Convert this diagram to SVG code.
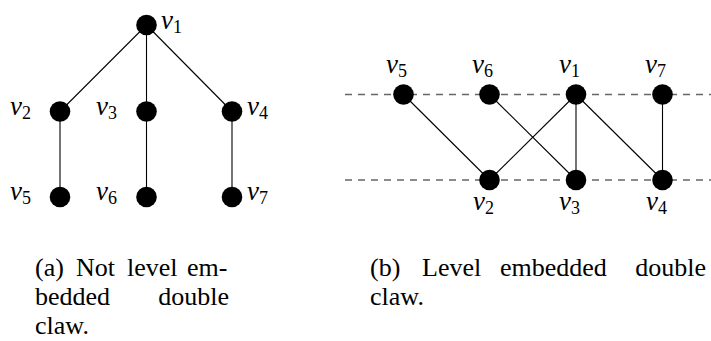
<svg xmlns="http://www.w3.org/2000/svg" width="711" height="341" viewBox="0 0 711 341">
<rect width="711" height="341" fill="#fff"/>
<g id="connectors" fill="none">
<g stroke="#000" stroke-width="1.1">
<line x1="146.5" y1="25" x2="60" y2="111.5"/>
<line x1="146.5" y1="25" x2="146.5" y2="111.5"/>
<line x1="146.5" y1="25" x2="232" y2="111.5"/>
<line x1="60" y1="111.5" x2="60" y2="197"/>
<line x1="146.5" y1="111.5" x2="146.5" y2="197"/>
<line x1="232" y1="111.5" x2="232" y2="197"/>
<line x1="403.5" y1="94.5" x2="489.5" y2="180"/>
<line x1="489.5" y1="94.5" x2="576" y2="180"/>
<line x1="576" y1="94.5" x2="489.5" y2="180"/>
<line x1="576" y1="94.5" x2="576" y2="180"/>
<line x1="576" y1="94.5" x2="662.5" y2="180"/>
<line x1="662.5" y1="94.5" x2="662.5" y2="180"/>
</g>
<g stroke="#666" stroke-width="1.3" stroke-dasharray="7 6">
<line x1="345" y1="94.5" x2="711" y2="94.5"/>
<line x1="345" y1="180" x2="711" y2="180"/>
</g>
</g>
<g fill="#000">
<g id="a-v1"><circle cx="146.5" cy="25" r="10.3"/><text x="161" y="29" font-family="Liberation Serif" font-style="italic" font-size="27">v<tspan font-family="Liberation Serif" font-style="normal" font-size="18" dy="4">1</tspan></text></g>
<g id="a-v2"><circle cx="60" cy="111.5" r="10.3"/><text x="10" y="115" font-family="Liberation Serif" font-style="italic" font-size="27">v<tspan font-family="Liberation Serif" font-style="normal" font-size="18" dy="4">2</tspan></text></g>
<g id="a-v3"><circle cx="146.5" cy="111.5" r="10.3"/><text x="96" y="115" font-family="Liberation Serif" font-style="italic" font-size="27">v<tspan font-family="Liberation Serif" font-style="normal" font-size="18" dy="4">3</tspan></text></g>
<g id="a-v4"><circle cx="232" cy="111.5" r="10.3"/><text x="247" y="115" font-family="Liberation Serif" font-style="italic" font-size="27">v<tspan font-family="Liberation Serif" font-style="normal" font-size="18" dy="4">4</tspan></text></g>
<g id="a-v5"><circle cx="60" cy="197" r="10.3"/><text x="10" y="200" font-family="Liberation Serif" font-style="italic" font-size="27">v<tspan font-family="Liberation Serif" font-style="normal" font-size="18" dy="4">5</tspan></text></g>
<g id="a-v6"><circle cx="146.5" cy="197" r="10.3"/><text x="96" y="200" font-family="Liberation Serif" font-style="italic" font-size="27">v<tspan font-family="Liberation Serif" font-style="normal" font-size="18" dy="4">6</tspan></text></g>
<g id="a-v7"><circle cx="232" cy="197" r="10.3"/><text x="247" y="200" font-family="Liberation Serif" font-style="italic" font-size="27">v<tspan font-family="Liberation Serif" font-style="normal" font-size="18" dy="4">7</tspan></text></g>
<g id="b-v5"><circle cx="403.5" cy="94.5" r="10.3"/><text x="386" y="73" font-family="Liberation Serif" font-style="italic" font-size="27">v<tspan font-family="Liberation Serif" font-style="normal" font-size="18" dy="4">5</tspan></text></g>
<g id="b-v6"><circle cx="489.5" cy="94.5" r="10.3"/><text x="472" y="73" font-family="Liberation Serif" font-style="italic" font-size="27">v<tspan font-family="Liberation Serif" font-style="normal" font-size="18" dy="4">6</tspan></text></g>
<g id="b-v1"><circle cx="576" cy="94.5" r="10.3"/><text x="559" y="73" font-family="Liberation Serif" font-style="italic" font-size="27">v<tspan font-family="Liberation Serif" font-style="normal" font-size="18" dy="4">1</tspan></text></g>
<g id="b-v7"><circle cx="662.5" cy="94.5" r="10.3"/><text x="645" y="73" font-family="Liberation Serif" font-style="italic" font-size="27">v<tspan font-family="Liberation Serif" font-style="normal" font-size="18" dy="4">7</tspan></text></g>
<g id="b-v2"><circle cx="489.5" cy="180" r="10.3"/><text x="473" y="210" font-family="Liberation Serif" font-style="italic" font-size="27">v<tspan font-family="Liberation Serif" font-style="normal" font-size="18" dy="4">2</tspan></text></g>
<g id="b-v3"><circle cx="576" cy="180" r="10.3"/><text x="559" y="210" font-family="Liberation Serif" font-style="italic" font-size="27">v<tspan font-family="Liberation Serif" font-style="normal" font-size="18" dy="4">3</tspan></text></g>
<g id="b-v4"><circle cx="662.5" cy="180" r="10.3"/><text x="646" y="210" font-family="Liberation Serif" font-style="italic" font-size="27">v<tspan font-family="Liberation Serif" font-style="normal" font-size="18" dy="4">4</tspan></text></g>
</g>
<g id="captions" fill="#000">
<text y="276" font-family="Liberation Serif" font-size="26"><tspan x="35">(a)</tspan><tspan x="76">Not</tspan><tspan x="127">level</tspan><tspan x="187">em-</tspan></text>
<text y="305" font-family="Liberation Serif" font-size="26"><tspan x="35">bedded</tspan><tspan x="229" text-anchor="end">double</tspan></text>
<text x="35" y="334" font-family="Liberation Serif" font-size="26">claw.</text>
<text y="276" font-family="Liberation Serif" font-size="26"><tspan x="370">(b)</tspan><tspan x="422">Level</tspan><tspan x="500">embedded</tspan><tspan x="706" text-anchor="end">double</tspan></text>
<text x="370" y="305" font-family="Liberation Serif" font-size="26">claw.</text>
</g>
</svg>
